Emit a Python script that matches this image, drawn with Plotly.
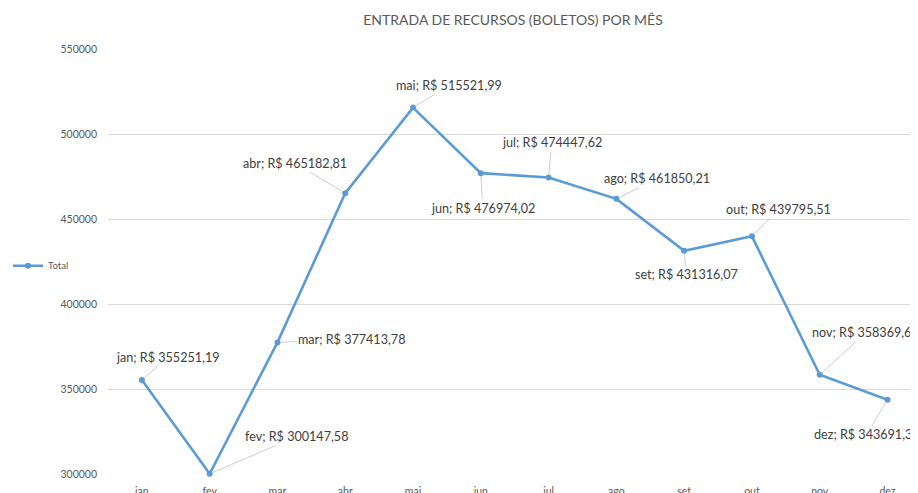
import plotly.graph_objects as go

months = ["jan", "fev", "mar", "abr", "mai", "jun", "jul", "ago", "set", "out", "nov", "dez"]
totals = [355251.19, 300147.58, 377413.78, 465182.81, 515521.99, 476974.02,
          474447.62, 461850.21, 431316.07, 439795.51, 358369.62, 343691.33]
label_texts = ["jan; R$ 355251,19", "fev; R$ 300147,58", "mar; R$ 377413,78",
               "abr; R$ 465182,81", "mai; R$ 515521,99", "jun; R$ 476974,02",
               "jul; R$ 474447,62", "ago; R$ 461850,21", "set; R$ 431316,07",
               "out; R$ 439795,51", "nov; R$ 358369,62", "dez; R$ 343691,33"]
# label offsets in pixels (text centre relative to point)
label_dx = [26, 87, 74, -50, 36, 2, 3, 41, 2, 27, 46, -21]
label_dy = [-23, -37, -3, -30, -22, 35, -35, -20, 24, -27, -42, 35]
y_ticks = [300000, 350000, 400000, 450000, 500000, 550000]

FONT = "Lato, 'Open Sans', sans-serif"
BLUE = "#5B9BD5"
W, H = 918, 493
ML, MR, MT, MB = 100, 8, 41, 27
PW = W - ML - MR

fig = go.Figure()
fig.add_trace(go.Scatter(
    x=months, y=totals, mode="lines+markers", name="Total",
    line=dict(color=BLUE, width=2.6),
    marker=dict(color=BLUE, size=6),
    cliponaxis=False,
))

for m, v, t, dx, dy in zip(months, totals, label_texts, label_dx, label_dy):
    fig.add_annotation(
        x=m, y=v, text=t, showarrow=True, ax=dx, ay=dy,
        arrowhead=0, arrowwidth=0.8, arrowcolor="#BFBFBF", standoff=3,
        font=dict(family=FONT, size=12.6, color="#404040"),
    )

fig.update_layout(
    width=W, height=H,
    margin=dict(l=ML, r=MR, t=MT, b=MB, autoexpand=False),
    paper_bgcolor="white", plot_bgcolor="white",
    title=dict(text="ENTRADA DE RECURSOS (BOLETOS) POR MÊS", x=0.5, xref="paper",
               xanchor="center", y=1 - 12 / H, yref="container", yanchor="middle",
               font=dict(family=FONT, size=14, color="#595959")),
    showlegend=True,
    legend=dict(xref="paper", yref="paper", x=(0 - ML) / PW, y=0.49,
                xanchor="left", yanchor="middle",
                font=dict(family=FONT, size=9.5, color="#595959"),
                bgcolor="rgba(0,0,0,0)"),
    xaxis=dict(type="category", range=[-0.5, 11.45], showgrid=False,
               showline=False, ticks="", zeroline=False, automargin=False,
               ticklabelstandoff=9,
               tickfont=dict(family=FONT, size=10.5, color="#595959")),
    yaxis=dict(range=[300000, 550000], tickvals=y_ticks,
               ticktext=[str(v) for v in y_ticks], automargin=False,
               showgrid=True, gridcolor="#D9D9D9", gridwidth=1,
               zeroline=False, showline=False, ticks="", ticklabelstandoff=10,
               tickfont=dict(family=FONT, size=10.5, color="#595959")),
)

fig.write_html("out.html")
